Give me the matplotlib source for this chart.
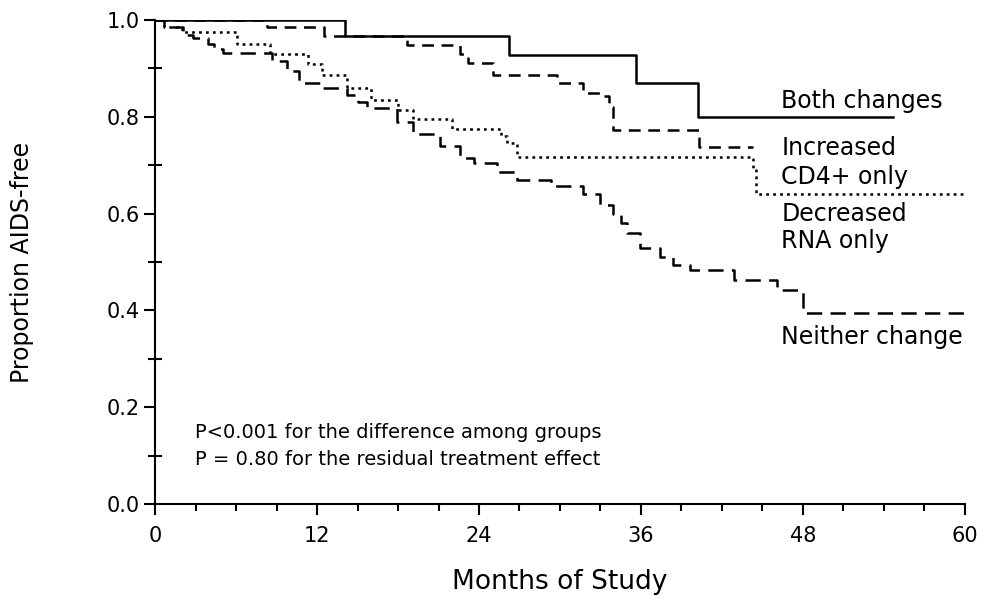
import matplotlib
matplotlib.use('Agg')
import matplotlib.pyplot as plt
from matplotlib.ticker import MultipleLocator

plt.rcParams['font.family'] = ['DejaVu Sans']
plt.rcParams['lines.scale_dashes'] = False

# Kaplan-Meier step curves (months, proportion AIDS-free)
both_t = [0, 14.1, 26.2, 35.6, 40.2, 54.7]
both_s = [1.0, 0.967, 0.928, 0.87, 0.80, 0.80]

cd4_t = [0, 8.3, 12.5, 18.7, 22.6, 23.2, 25.0, 29.8, 31.7, 33.0, 33.6, 33.9, 40.3, 44.3]
cd4_s = [1.0, 0.985, 0.967, 0.948, 0.93, 0.911, 0.886, 0.87, 0.849, 0.843, 0.82, 0.773, 0.738, 0.738]

rna_t = [0, 0.7, 2.0, 6.1, 8.5, 11.3, 12.4, 14.2, 16.0, 18.0, 19.1, 22.0, 25.6, 26.1, 26.8, 44.3, 44.5, 60]
rna_s = [1.0, 0.985, 0.975, 0.95, 0.93, 0.91, 0.886, 0.86, 0.835, 0.815, 0.795, 0.775, 0.76, 0.745, 0.717, 0.69, 0.64, 0.64]

neither_t = [0, 0.7, 2.1, 2.8, 3.9, 4.4, 5.0, 8.7, 9.8, 10.7, 12.2, 14.2, 15.0, 15.7, 17.9,
             19.1, 21.1, 22.6, 23.6, 25.3, 26.8, 29.3, 31.7, 33.0, 33.9, 34.5, 35.0, 35.9,
             37.4, 38.4, 39.6, 42.9, 46.1, 48.0, 60]
neither_s = [1.0, 0.985, 0.97, 0.962, 0.95, 0.94, 0.932, 0.915, 0.895, 0.87, 0.86, 0.845, 0.83, 0.818, 0.79,
             0.765, 0.74, 0.715, 0.705, 0.685, 0.67, 0.657, 0.64, 0.618, 0.6, 0.58, 0.56, 0.528,
             0.51, 0.494, 0.483, 0.463, 0.442, 0.395, 0.395]

x_ticks = [0, 12, 24, 36, 48, 60]
y_ticks = [0.0, 0.2, 0.4, 0.6, 0.8, 1.0]

fig = plt.figure(figsize=(9.9, 6.07), dpi=100)
ax = fig.add_axes([0.1566, 0.1697, 0.8181, 0.7973])

ax.step(both_t, both_s, where='post', color='black', lw=1.8, ls='-')
ax.step(cd4_t, cd4_s, where='post', color='black', lw=1.8, ls=(0, (8.5, 5.5)))
ax.step(rna_t, rna_s, where='post', color='black', lw=1.8, ls=(0, (2, 3)))
ax.step(neither_t, neither_s, where='post', color='black', lw=1.8, ls=(0, (11, 6)))

# curve labels
lab_kw = dict(fontsize=17, ha='left', va='center')
ax.text(46.4, 0.833, 'Both changes', **lab_kw)
ax.text(46.4, 0.736, 'Increased', **lab_kw)
ax.text(46.4, 0.676, 'CD4+ only', **lab_kw)
ax.text(46.4, 0.599, 'Decreased', **lab_kw)
ax.text(46.4, 0.543, 'RNA only', **lab_kw)
ax.text(46.4, 0.345, 'Neither change', **lab_kw)

ax.text(2.96, 0.147, 'P<0.001 for the difference among groups', fontsize=14, ha='left', va='center')
ax.text(2.96, 0.091, 'P = 0.80 for the residual treatment effect', fontsize=14, ha='left', va='center')

ax.set_xlim(0, 60)
ax.set_ylim(0, 1.0)
ax.set_xticks(x_ticks)
ax.set_yticks(y_ticks)
ax.set_yticklabels(['%.1f' % v for v in y_ticks])
ax.xaxis.set_minor_locator(MultipleLocator(3))
ax.yaxis.set_minor_locator(MultipleLocator(0.1))

for side in ['top', 'right']:
    ax.spines[side].set_visible(False)
for side in ['left', 'bottom']:
    ax.spines[side].set_linewidth(1.5)

ax.tick_params(axis='both', which='major', direction='out', length=8, width=1.5, labelsize=15)
ax.tick_params(axis='x', which='major', pad=8)
ax.tick_params(axis='y', which='major', pad=3)
ax.tick_params(axis='x', which='minor', direction='out', length=5, width=1.5)
ax.tick_params(axis='y', which='minor', direction='inout', length=10, width=1.5)

ax.set_xlabel('Months of Study', fontsize=19, va='center')
ax.xaxis.set_label_coords(0.5, -0.161)
ax.set_ylabel('Proportion AIDS-free', fontsize=17, va='center')
ax.yaxis.set_label_coords(-0.164, 0.5)

fig.savefig('out.png', dpi=100)
